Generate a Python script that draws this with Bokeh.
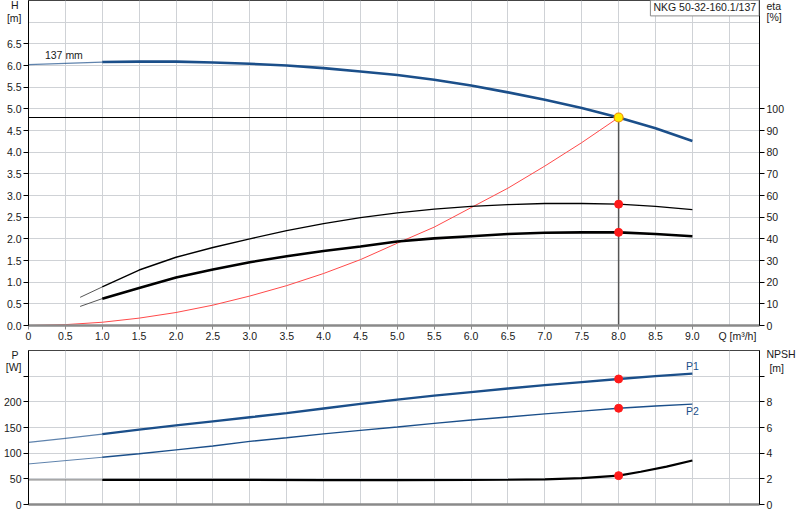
from bokeh.plotting import figure
from bokeh.models import Range1d, LinearAxis, FixedTicker, CustomJSTickFormatter, Label
from bokeh.layouts import column
from bokeh.embed import file_html
from bokeh.resources import INLINE

# ---------------- data ----------------
Q_curve = [0.0, 0.5, 1.0, 1.5, 2.0, 2.5, 3.0, 3.5, 4.0, 4.5, 5.0, 5.5, 6.0, 6.5, 7.0, 7.5, 8.0, 8.5, 9.0]
H_curve = [6.02, 6.05, 6.08, 6.09, 6.09, 6.07, 6.04, 6.00, 5.94, 5.86, 5.78, 5.67, 5.54, 5.38, 5.21, 5.02, 4.80, 4.55, 4.26]

Q_eta = [0.7, 1.0, 1.5, 2.0, 2.5, 3.0, 3.5, 4.0, 4.5, 5.0, 5.5, 6.0, 6.5, 7.0, 7.5, 8.0, 8.5, 9.0]
eta_a = [13.0, 17.8, 25.6, 31.5, 36.0, 40.0, 43.8, 47.0, 49.8, 52.0, 53.7, 55.0, 55.8, 56.3, 56.3, 56.0, 55.0, 53.5]
eta_b = [8.8, 12.4, 17.3, 22.2, 25.8, 29.2, 32.0, 34.4, 36.5, 38.8, 40.2, 41.2, 42.2, 42.8, 43.0, 43.0, 42.2, 41.2]

Q_sys = [0.0, 0.5, 1.0, 1.5, 2.0, 2.5, 3.0, 3.5, 4.0, 4.5, 5.0, 5.5, 6.0, 6.5, 7.0, 7.5, 8.0]
H_sys = [0.0, 0.02, 0.075, 0.17, 0.30, 0.47, 0.68, 0.92, 1.20, 1.52, 1.90, 2.27, 2.72, 3.17, 3.68, 4.22, 4.80]

P1 = [121, 129, 137, 146, 154, 162, 170, 178, 187, 196, 204.5, 212, 219, 226, 232.5, 238.5, 244.5, 250, 255]
P2 = [79, 85.5, 92, 99, 106.5, 114, 123, 130, 137.5, 144.5, 151, 158, 164.5, 170.5, 176.5, 182, 187.5, 192, 195.5]

Q_npsh = [0.0, 1.0, 2.0, 3.0, 4.0, 5.0, 6.0, 6.5, 7.0, 7.5, 8.0, 8.3, 8.65, 9.0]
NPSH = [1.92, 1.92, 1.93, 1.92, 1.90, 1.90, 1.91, 1.93, 1.96, 2.06, 2.25, 2.55, 2.95, 3.43]

Q_duty = 8.0
H_duty = 4.80
eta_a_duty = 56.0
eta_b_duty = 43.0
P1_duty = 244.5
P2_duty = 187.5
NPSH_duty = 2.25

# tick positions (numbers) and the positions used for the axis titles
Q_ticks = [0.0, 0.5, 1.0, 1.5, 2.0, 2.5, 3.0, 3.5, 4.0, 4.5, 5.0, 5.5, 6.0, 6.5, 7.0, 7.5, 8.0, 8.5, 9.0]
Q_grid = [0.5, 1.0, 1.5, 2.0, 2.5, 3.0, 3.5, 4.0, 4.5, 5.0, 5.5, 6.0, 6.5, 7.0, 7.5, 8.0, 8.5, 9.0, 9.5]
H_ticks = [0.0, 0.5, 1.0, 1.5, 2.0, 2.5, 3.0, 3.5, 4.0, 4.5, 5.0, 5.5, 6.0, 6.5]
H_grid = [0.5, 1.0, 1.5, 2.0, 2.5, 3.0, 3.5, 4.0, 4.5, 5.0, 5.5, 6.0, 6.5, 7.0]
eta_ticks = [0, 10, 20, 30, 40, 50, 60, 70, 80, 90, 100]
P_ticks = [0, 50, 100, 150, 200]
P_grid = [50, 100, 150, 200, 250]
P_minor = [250]
NPSH_ticks = [0, 2, 4, 6, 8]
NPSH_minor = [10]

title_text = "NKG 50-32-160.1/137"
curve_label = "137 mm"
q_label = "Q [m\u00b3/h]"
h_title = ["H\u00a0", "[m]"]
eta_title = ["eta", "[%]"]
p_title = ["P\u00a0", "[W]"]
npsh_title = ["NPSH", "\u00a0[m]"]

# positions of the axis titles (in axis units)
q_label_pos = 9.61
h_title_pos = [7.385, 7.10]
eta_title_pos = [147.5, 142.6]
p_title_pos = [292.2, 268.8]
npsh_title_pos = [11.69, 10.67]

# ---------------- styling ----------------
FONT = "Liberation Sans"
FS = "10.5px"
BLUE = "#1b4f8a"
GRID = "#cfd2d6"
TXT = "#1a1a1a"
W = 798
XR = (0, 9.91)


def style_common(p):
    p.outline_line_color = "#444444"
    p.background_fill_color = "white"
    p.border_fill_color = "white"
    for g in (p.xgrid, p.ygrid):
        g.grid_line_color = GRID
        g.grid_line_width = 1
    p.xgrid.ticker = FixedTicker(ticks=Q_grid)


def style_axis(ax, color="black", width=1, tick_len=5):
    # numbers + titles are "major" ticks without marks; the marks are drawn as minor ticks
    ax.axis_line_color = color
    ax.axis_line_width = width
    ax.major_tick_line_color = None
    ax.major_tick_out = tick_len
    ax.major_tick_in = 0
    ax.minor_tick_line_color = color
    ax.minor_tick_out = tick_len
    ax.minor_tick_in = 0
    ax.major_label_standoff = 2
    ax.major_label_text_font = FONT
    ax.major_label_text_font_size = FS
    ax.major_label_text_color = TXT


def title_formatter(pos, titles, digits, zero=None):
    return CustomJSTickFormatter(
        args=dict(pos=pos, titles=titles, digits=digits, zero=zero),
        code="""
        for (let i = 0; i < pos.length; i++) {
            if (Math.abs(tick - pos[i]) < 1e-6) return titles[i];
        }
        if (zero !== null && tick == 0) return zero;
        return tick.toFixed(digits);
        """)


def txt(p, x, y, s, color=TXT, y_range_name="default"):
    p.add_layout(Label(x=x, y=y, text=s, text_align="center", text_baseline="middle",
                       text_color=color, text_font=FONT, text_font_size=FS,
                       y_range_name=y_range_name))


# ---------------- top panel: H / eta ----------------
p1 = figure(width=W, height=345, x_range=Range1d(*XR), y_range=Range1d(0, 7.5),
            output_backend="svg", toolbar_location=None,
            min_border_left=27, min_border_right=36, min_border_top=0, min_border_bottom=20)
p1.extra_y_ranges = {"eta": Range1d(0, 150)}
style_common(p1)
p1.ygrid.ticker = FixedTicker(ticks=H_grid)

xa = p1.xaxis[0]
xa.ticker = FixedTicker(ticks=Q_ticks + [q_label_pos], minor_ticks=Q_ticks)
xa.formatter = title_formatter([q_label_pos], [q_label], 1, zero="0")
style_axis(xa, color="#8a8a8a", width=2.5, tick_len=4)
xa.major_label_standoff = 0

ya = p1.yaxis[0]
ya.ticker = FixedTicker(ticks=H_ticks + h_title_pos, minor_ticks=H_ticks)
ya.formatter = title_formatter(h_title_pos, h_title, 1)
style_axis(ya)

ra = LinearAxis(y_range_name="eta", ticker=FixedTicker(ticks=eta_ticks + eta_title_pos, minor_ticks=eta_ticks),
                formatter=title_formatter(eta_title_pos, eta_title, 0))
style_axis(ra)
p1.add_layout(ra, "right")

# duty point guide lines
p1.line([0, Q_duty], [H_duty, H_duty], line_color="black", line_width=1)
p1.line([Q_duty, Q_duty], [0, H_duty], line_color="#555555", line_width=1.5)

# system curve
p1.line(Q_sys, H_sys, line_color="#ff4a4a", line_width=1)

# eta curves (thin start, then full)
p1.line(Q_eta[:2], eta_a[:2], y_range_name="eta", line_color="#555555", line_width=1)
p1.line(Q_eta[1:], eta_a[1:], y_range_name="eta", line_color="black", line_width=1.4)
p1.line(Q_eta[:2], eta_b[:2], y_range_name="eta", line_color="#555555", line_width=1)
p1.line(Q_eta[1:], eta_b[1:], y_range_name="eta", line_color="black", line_width=2.6)

# H curve
p1.line(Q_curve[:3], H_curve[:3], line_color=BLUE, line_width=1.2, line_alpha=0.7)
p1.line(Q_curve[2:], H_curve[2:], line_color=BLUE, line_width=2.6)

# markers
p1.scatter([Q_duty, Q_duty], [eta_a_duty, eta_b_duty], y_range_name="eta", size=8,
           fill_color="#ff1a1a", line_color="#ff1a1a")
p1.scatter([Q_duty], [H_duty], size=9, fill_color="#ffee00", line_color="#f08c00", line_width=1.2)

txt(p1, 0.48, 6.25, curve_label)
p1.add_layout(Label(x=9.905, y=7.56, text=title_text, text_align="right", text_baseline="top",
                    text_color=TXT, text_font=FONT, text_font_size=FS,
                    border_line_color="#8a8a8a", background_fill_color="white", padding=3))

# ---------------- bottom panel: P / NPSH ----------------
p2 = figure(width=W, height=170, x_range=p1.x_range, y_range=Range1d(0, 300),
            output_backend="svg", toolbar_location=None,
            min_border_left=27, min_border_right=36, min_border_top=5, min_border_bottom=11)
p2.extra_y_ranges = {"npsh": Range1d(0, 12)}
style_common(p2)
p2.ygrid.ticker = FixedTicker(ticks=P_grid)

xb = p2.xaxis[0]
style_axis(xb, color="#8a8a8a", width=2.5)
xb.ticker = FixedTicker(ticks=[])
xb.minor_tick_line_color = None

yb = p2.yaxis[0]
yb.ticker = FixedTicker(ticks=P_ticks + p_title_pos, minor_ticks=P_ticks + P_minor)
yb.formatter = title_formatter(p_title_pos, p_title, 0)
style_axis(yb)

rb = LinearAxis(y_range_name="npsh",
                ticker=FixedTicker(ticks=NPSH_ticks + npsh_title_pos, minor_ticks=NPSH_ticks + NPSH_minor),
                formatter=title_formatter(npsh_title_pos, npsh_title, 0))
style_axis(rb)
p2.add_layout(rb, "right")

p2.line(Q_curve[:3], P1[:3], line_color=BLUE, line_width=1.2, line_alpha=0.7)
p2.line(Q_curve[2:], P1[2:], line_color=BLUE, line_width=2.3)
p2.line(Q_curve[:3], P2[:3], line_color=BLUE, line_width=1.0, line_alpha=0.7)
p2.line(Q_curve[2:], P2[2:], line_color=BLUE, line_width=1.4)
p2.line(Q_npsh[:2], NPSH[:2], y_range_name="npsh", line_color="#8a8a8a", line_width=1.2)
p2.line(Q_npsh[1:], NPSH[1:], y_range_name="npsh", line_color="black", line_width=2.2)

p2.scatter([Q_duty, Q_duty], [P1_duty, P2_duty], size=8, fill_color="#ff1a1a", line_color="#ff1a1a")
p2.scatter([Q_duty], [NPSH_duty], y_range_name="npsh", size=8, fill_color="#ff1a1a", line_color="#ff1a1a")

txt(p2, 9.0, 270, "P1", color=BLUE)
txt(p2, 9.0, 182, "P2", color=BLUE)

layout = column(p1, p2, spacing=0)
open("out.html", "w").write(file_html(layout, INLINE))
